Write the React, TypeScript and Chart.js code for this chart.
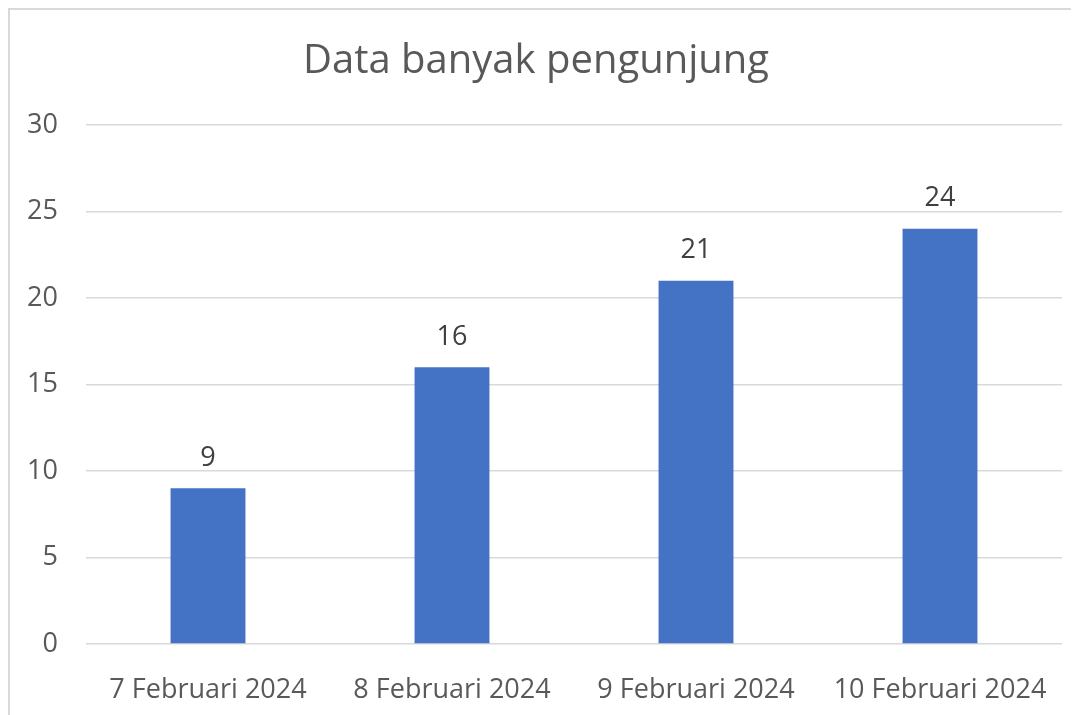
import React, { useEffect, useRef } from "react";
import { Chart, registerables } from "chart.js";

Chart.register(...registerables);

const titleText = "Data banyak pengunjung";
const categories = ["7 Februari 2024", "8 Februari 2024", "9 Februari 2024", "10 Februari 2024"];
const visitors = [9, 16, 21, 24];
const yMin = 0;
const yMax = 30;
const yStep = 5;

const FONT = "'Open Sans', 'Liberation Sans', sans-serif";

const dataLabelPlugin = {
  id: "dataLabels",
  afterDatasetsDraw(chart: any) {
    const ctx = chart.ctx;
    const meta = chart.getDatasetMeta(0);
    ctx.save();
    ctx.fillStyle = "#404040";
    ctx.font = `27px ${FONT}`;
    ctx.textAlign = "center";
    ctx.textBaseline = "middle";
    meta.data.forEach((bar: any, i: number) => {
      ctx.fillText(String(chart.data.datasets[0].data[i]), bar.x, bar.y - 30);
    });
    ctx.restore();
  },
};

export default function App() {
  const ref = useRef<HTMLCanvasElement>(null);
  useEffect(() => {
    if (!ref.current) return;
    const chart = new Chart(ref.current, {
      type: "bar",
      data: {
        labels: categories,
        datasets: [
          {
            data: visitors,
            backgroundColor: "#4472C4",
            borderWidth: 0,
            barPercentage: 0.307,
            categoryPercentage: 1,
          },
        ],
      },
      options: {
        animation: false,
        responsive: false,
        maintainAspectRatio: false,
        layout: { padding: { left: 0, right: 17, top: 0, bottom: 0 } },
        plugins: {
          legend: { display: false },
          tooltip: { enabled: false },
          title: {
            display: true,
            text: titleText,
            color: "#595959",
            font: { family: FONT, size: 40, weight: "normal" },
            padding: { top: 28, bottom: 39 },
          },
        },
        scales: {
          x: {
            grid: { display: false, drawTicks: false },
            border: { display: false },
            ticks: {
              color: "#595959",
              font: { family: FONT, size: 27 },
              padding: 30,
              maxRotation: 0,
              autoSkip: false,
            },
            afterFit(scale: any) {
              scale.height = 71;
            },
          },
          y: {
            min: yMin,
            max: yMax,
            grid: { color: "#D9D9D9", lineWidth: 1.5, drawTicks: false },
            border: { display: false },
            ticks: {
              stepSize: yStep,
              color: "#595959",
              font: { family: FONT, size: 27 },
              padding: 28,
            },
            afterFit(scale: any) {
              scale.width = 76;
            },
          },
        },
      },
      plugins: [dataLabelPlugin],
    });
    return () => chart.destroy();
  }, []);

  return (
    <div
      style={{
        width: 1071,
        height: 707,
        overflow: "hidden",
        borderLeft: "2px solid #D9D9D9",
        borderTop: "2px solid #D9D9D9",
        boxSizing: "border-box",
        background: "#fff",
      }}
    >
      <canvas ref={ref} width={1069} height={705} style={{ display: "block" }} />
    </div>
  );
}
